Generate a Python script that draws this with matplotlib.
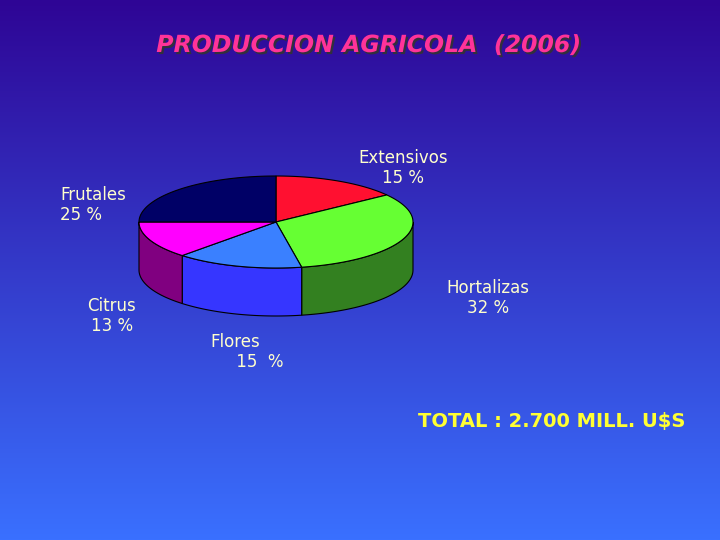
import numpy as np
import matplotlib
matplotlib.use("Agg")
import matplotlib.pyplot as plt
import matplotlib.patheffects as pe
from matplotlib.patches import Polygon

categories = ["Extensivos", "Hortalizas", "Flores", "Citrus", "Frutales"]
values = [15, 32, 15, 13, 25]
label_texts = ["Extensivos\n15 %", "Hortalizas\n32 %", "Flores\n     15  %", "Citrus\n13 %", "Frutales\n25 %"]
top_colors = ["#ff1030", "#66ff33", "#3a80ff", "#ff00ff", "#000066"]
side_colors = ["#a00818", "#338020", "#3636ff", "#800080", "#000040"]
label_pos = [(403, 168), (488, 298), (210, 352), (112, 316), (60, 205)]
label_ha = ["center", "center", "left", "center", "left"]

fig = plt.figure(figsize=(7.2, 5.4), dpi=100)
ax = fig.add_axes([0, 0, 1, 1])
ax.set_xlim(0, 720); ax.set_ylim(540, 0); ax.axis("off")

top = np.array([0x2e, 0x05, 0x95]) / 255
bot = np.array([0x3a, 0x70, 0xff]) / 255
t = np.linspace(0, 1, 256)[:, None]
grad = (top * (1 - t) + bot * t)[:, None, :]
ax.imshow(grad, extent=[0, 720, 540, 0], aspect="auto", zorder=0)

cx, cy, rx, ry, depth = 276, 222, 137, 46, 48
fr = np.array(values) / sum(values)
ends = 90 - 360 * np.cumsum(fr)
starts = np.concatenate([[90], ends[:-1]])

def pt(a, dy=0):
    r = np.deg2rad(a)
    return cx + rx * np.cos(r), cy - ry * np.sin(r) + dy

for s, e, c in zip(starts, ends, side_colors):
    lo, hi = max(e, -180), min(s, 0)
    if lo >= hi:
        continue
    a = np.linspace(hi, lo, 60)
    upper = [pt(x) for x in a]
    lower = [pt(x, depth) for x in a[::-1]]
    ax.add_patch(Polygon(upper + lower, closed=True, fc=c, ec="black", lw=0.8, zorder=2))

for s, e, c in zip(starts, ends, top_colors):
    a = np.linspace(s, e, 80)
    poly = [(cx, cy)] + [pt(x) for x in a]
    ax.add_patch(Polygon(poly, closed=True, fc=c, ec="black", lw=0.8, zorder=3))

for (x, y), txt, ha in zip(label_pos, label_texts, label_ha):
    ax.text(x, y, txt, color="#ffffcc", fontsize=12, ha=ha, va="center", zorder=5,
            multialignment="center" if ha == "center" else "left",
            family="DejaVu Sans", linespacing=1.1)

ax.text(369, 45, "PRODUCCION AGRICOLA  (2006)", color="#ff3399", fontsize=17,
        fontweight="bold", style="italic", ha="center", va="center", zorder=5,
        family="DejaVu Sans",
        path_effects=[pe.withSimplePatchShadow(offset=(1.5, -1.5), shadow_rgbFace="#333333", alpha=0.9)])
ax.text(552, 422, "TOTAL : 2.700 MILL. U$S", color="#ffff33", fontsize=14,
        fontweight="bold", ha="center", va="center", zorder=5, family="DejaVu Sans")

fig.savefig("out.png", dpi=100)
